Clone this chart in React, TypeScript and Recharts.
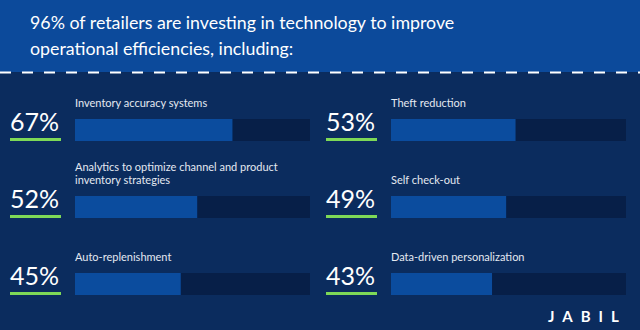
import { BarChart, Bar, XAxis, YAxis, LabelList } from "recharts"

const titleLines = [
  "96% of retailers are investing in technology to improve",
  "operational efficiencies, including:",
]

const leftLabels = [
  "Inventory accuracy systems",
  "Analytics to optimize channel and product\ninventory strategies",
  "Auto-replenishment",
]
const leftValues = [67, 52, 45]

const rightLabels = ["Theft reduction", "Self check-out", "Data-driven personalization"]
const rightValues = [53, 49, 43]

const FONT = "Lato, 'Open Sans', sans-serif"
const HEADER = "#0c4a9b"
const BODY = "#0b2c5e"
const TRACK = "#071f48"
const FILL = "#0b4c9e"
const GREEN = "#7ed957"

const box = (p: any) => {
  const v = p.viewBox && p.viewBox.x !== undefined ? p.viewBox : p
  return { x: Number(v.x), y: Number(v.y), width: Number(v.width), height: Number(v.height) }
}

const PctLabel = (props: any) => {
  const { x, y, height } = box(props)
  return (
    <g>
      <text x={x - 65} y={y + height / 2 + 0.5} fill="#ffffff" fontSize={25} fontFamily={FONT}>
        {props.value}%
      </text>
      <rect x={x - 65} y={y + height - 3} width={51} height={3} fill={GREEN} />
    </g>
  )
}

const NameLabel = (props: any) => {
  const { x, y } = box(props)
  const lines = String(props.value).split("\n")
  return (
    <text fill="#e4e9f1" fontSize={11} fontFamily={FONT}>
      {lines.map((l, i) => (
        <tspan key={i} x={x} y={y - 12 - (lines.length - 1 - i) * 13}>
          {l}
        </tspan>
      ))}
    </text>
  )
}

function Column({ labels, values, left }: { labels: string[]; values: number[]; left: number }) {
  const data = labels.map((name, i) => ({ name, value: values[i] }))
  return (
    <BarChart
      layout="vertical"
      width={320}
      height={231}
      data={data}
      margin={{ top: 0, right: 320 - left - 235, bottom: 0, left }}
      barSize={22}
    >
      <XAxis type="number" domain={[0, 100]} hide />
      <YAxis type="category" dataKey="name" hide />
      <Bar dataKey="value" fill={FILL} background={{ fill: TRACK }} isAnimationActive={false}>
        <LabelList dataKey="value" content={PctLabel} />
        <LabelList dataKey="name" content={NameLabel} />
      </Bar>
    </BarChart>
  )
}

export default function App() {
  return (
    <div
      style={{
        position: "absolute",
        left: 0,
        top: 0,
        width: 640,
        height: 330,
        background: BODY,
        overflow: "hidden",
        fontFamily: FONT,
      }}
    >
      <div style={{ position: "absolute", left: 0, top: 0, width: 640, height: 72, background: HEADER }} />
      <svg style={{ position: "absolute", left: 0, top: 71 }} width={640} height={3}>
        <line x1={0} y1={1.5} x2={640} y2={1.5} stroke="#ffffff" strokeWidth={2} strokeDasharray="11 11" />
      </svg>
      {titleLines.map((t, i) => (
        <div
          key={i}
          style={{
            position: "absolute",
            left: 30,
            top: 10 + i * 26,
            color: "#ffffff",
            fontSize: 17.8,
            lineHeight: "24px",
            whiteSpace: "nowrap",
          }}
        >
          {t}
        </div>
      ))}
      <div style={{ position: "absolute", left: 0, top: 91 }}>
        <Column labels={leftLabels} values={leftValues} left={75} />
      </div>
      <div style={{ position: "absolute", left: 320, top: 91 }}>
        <Column labels={rightLabels} values={rightValues} left={71} />
      </div>
      <div
        style={{
          position: "absolute",
          left: 548,
          top: 308,
          color: "#ffffff",
          fontSize: 15,
          fontWeight: 700,
          letterSpacing: 8,
          lineHeight: "16px",
        }}
      >
        JABIL
      </div>
    </div>
  )
}
